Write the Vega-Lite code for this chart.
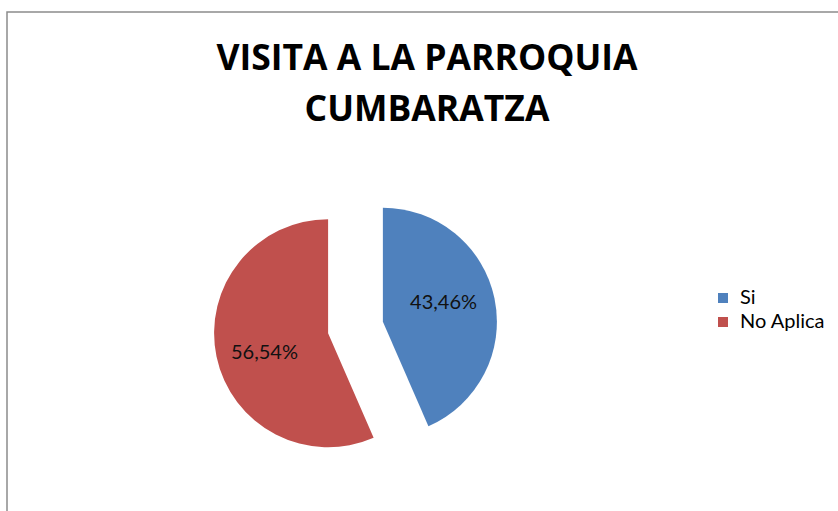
{
  "$schema": "https://vega.github.io/schema/vega-lite/v6.json",
  "width": 840,
  "height": 520,
  "autosize": "none",
  "padding": {"left": 7, "top": 12, "right": 0, "bottom": 0},
  "background": "white",
  "view": {"stroke": "#8c8c8c", "strokeWidth": 1.5, "fill": "white"},
  "config": {
    "font": "Lato"
  },
  "title": {
    "text": ["VISITA A LA PARROQUIA", "CUMBARATZA"],
    "font": "Open Sans",
    "fontSize": 35.5,
    "fontWeight": "bold",
    "color": "#000000",
    "lineHeight": 51,
    "anchor": "middle",
    "frame": "group",
    "offset": -116
  },
  "data": {
    "values": [
      {"categoria": "Si", "valor": 43.46, "etiqueta": "43,46%"},
      {"categoria": "No Aplica", "valor": 56.54, "etiqueta": "56,54%"}
    ]
  },
  "transform": [
    {"stack": "valor", "groupby": [], "sort": [{"field": "categoria", "order": "descending"}], "as": ["v0", "v1"]},
    {"calculate": "(datum.v0 + datum.v1) / 2", "as": "vmid"}
  ],
  "encoding": {
    "color": {
      "field": "categoria",
      "type": "nominal",
      "scale": {"domain": ["Si", "No Aplica"], "range": ["#4F81BD", "#C0504D"]},
      "legend": {
        "title": null,
        "orient": "none",
        "legendX": 706,
        "legendY": 276,
        "symbolType": "square",
        "symbolSize": 100,
        "symbolStrokeWidth": 0,
        "labelFont": "Lato",
        "labelFontSize": 20,
        "labelColor": "#000000",
        "rowPadding": 4,
        "labelOffset": 7
      }
    }
  },
  "layer": [
    {
      "transform": [{"filter": "datum.categoria == 'Si'"}],
      "layer": [
        {
          "mark": {"type": "arc", "outerRadius": 114, "x": 348.5, "y": 315.5, "xOffset": 27.4, "yOffset": -5.8},
          "encoding": {
            "theta": {"field": "v0", "type": "quantitative", "scale": {"domain": [0, 100]}},
            "theta2": {"field": "v1"}
          }
        },
        {
          "mark": {"type": "text", "radius": 63, "x": 348.5, "y": 315.5, "xOffset": 27.4, "yOffset": -5.8, "dy": -6, "dx": -1, "fontSize": 20, "font": "Lato"},
          "encoding": {
            "theta": {"field": "vmid", "type": "quantitative", "scale": {"domain": [0, 100]}},
            "text": {"field": "etiqueta"},
            "color": {"value": "#111111"}
          }
        }
      ]
    },
    {
      "transform": [{"filter": "datum.categoria == 'No Aplica'"}],
      "layer": [
        {
          "mark": {"type": "arc", "outerRadius": 114, "x": 348.5, "y": 315.5, "xOffset": -27.4, "yOffset": 5.8},
          "encoding": {
            "theta": {"field": "v0", "type": "quantitative", "scale": {"domain": [0, 100]}},
            "theta2": {"field": "v1"}
          }
        },
        {
          "mark": {"type": "text", "radius": 63, "x": 348.5, "y": 315.5, "xOffset": -27.4, "yOffset": 5.8, "dy": 7, "dx": -2, "fontSize": 20, "font": "Lato"},
          "encoding": {
            "theta": {"field": "vmid", "type": "quantitative", "scale": {"domain": [0, 100]}},
            "text": {"field": "etiqueta"},
            "color": {"value": "#111111"}
          }
        }
      ]
    }
  ]
}
